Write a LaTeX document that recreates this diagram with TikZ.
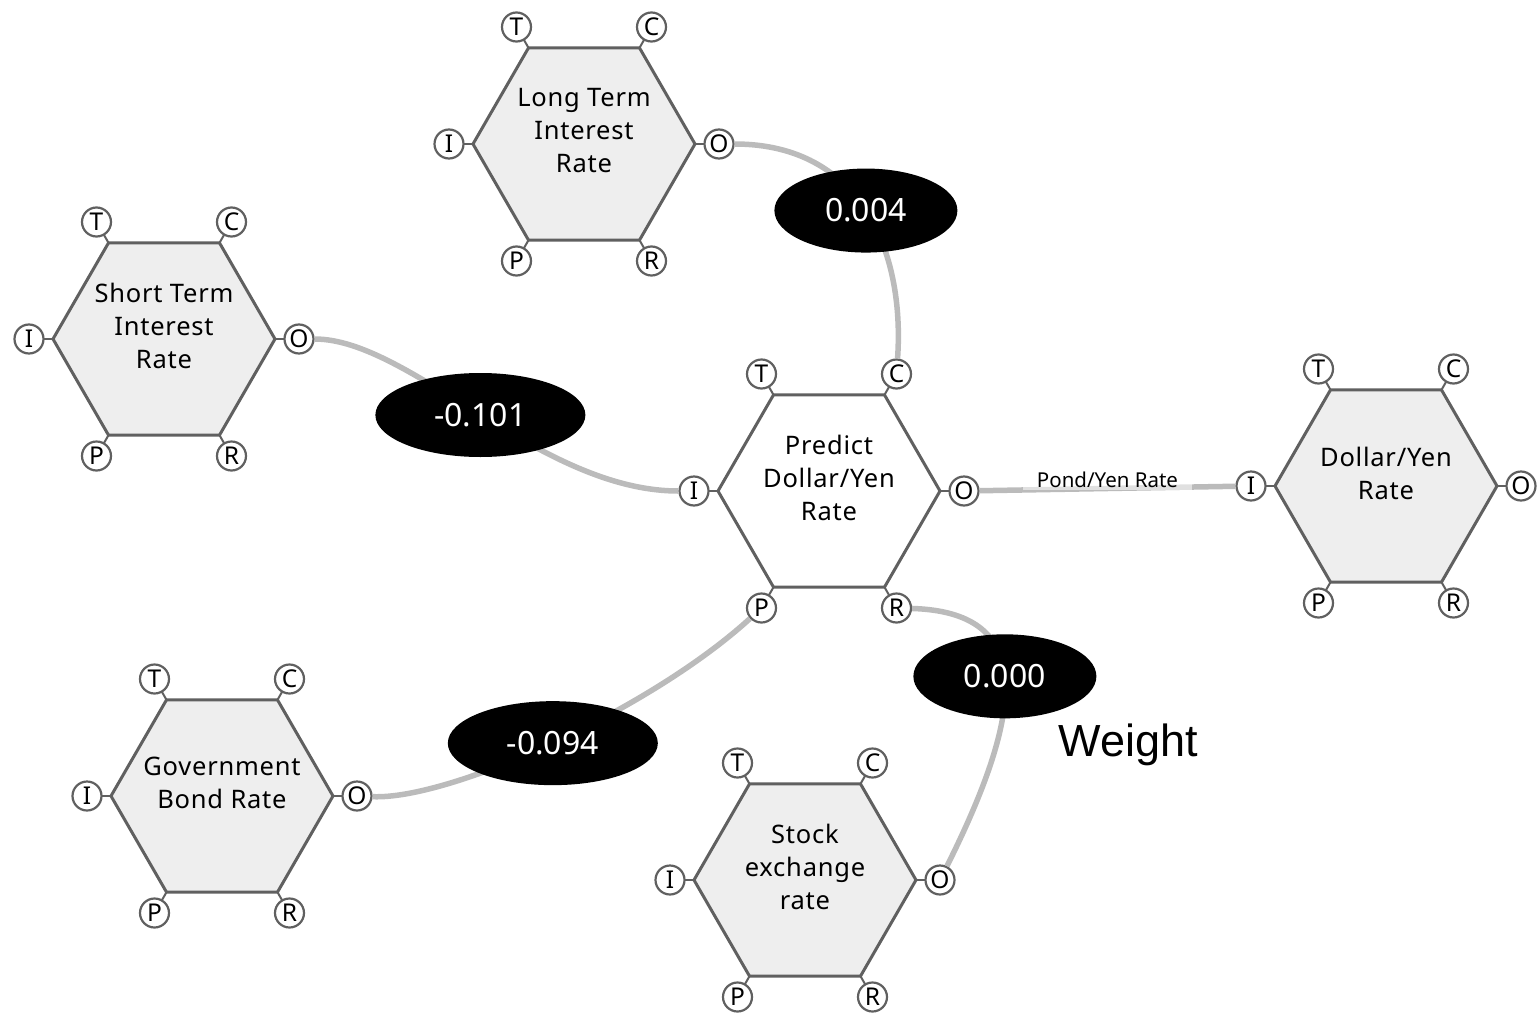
\documentclass[tikz,border=0pt]{standalone}
\usepackage{fontspec}
\setmainfont{Noto Sans}
\newfontfamily\weightfont{Liberation Sans}
\newfontfamily\hexfont[LetterSpace=3]{Noto Sans}
\usetikzlibrary{shapes.geometric}
\definecolor{hexborder}{HTML}{606060}
\definecolor{hexfill}{HTML}{EEEEEE}
\definecolor{wire}{HTML}{BBBBBB}
\tikzset{
 hexshape/.style={regular polygon, regular polygon sides=6, minimum size=222pt, inner sep=0pt, outer sep=0pt, draw=hexborder, line width=3pt},
 hextext/.style={align=center, font=\hexfont\fontsize{25.5}{33}\selectfont, inner sep=0pt},
 port/.style={circle, draw=hexborder, fill=white, line width=2.2pt, minimum size=29pt, inner sep=0pt, font=\fontsize{24.5}{24.5}\selectfont},
 stub/.style={draw=hexborder, line width=2pt},
 wirestyle/.style={draw=wire, line width=5.5pt},
 weightnode/.style={ellipse, fill=black, text=white, inner sep=0pt, minimum height=84pt, font=\fontsize{32}{32}\selectfont},
 pondlabel/.style={fill=white, fill opacity=0.55, text opacity=1, inner xsep=14pt, inner ysep=3pt, font=\fontsize{20.5}{20.5}\selectfont, yshift=9pt},
}
\newcommand\hexunit[5]{%
 \node[hexshape, fill=#4] (#1) at (#2,#3) {};
 \node[hextext] (#1-text) at (#2,#3-13) {#5};
 \foreach \p/\dx/\dy in {T/-67.5/-117,C/67.5/-117,I/-135/0,O/135/0,P/-67.5/117,R/67.5/117}{%
   \draw[stub] ({#2+0.822*(\dx)},{#3+0.822*(\dy)}) -- ({#2+\dx},{#3+\dy});
   \node[port] (#1-\p) at ({#2+\dx},{#3+\dy}) {\p};
 }%
}
\begin{document}
\begin{tikzpicture}[x=1pt,y=-1pt]
\useasboundingbox (0,0) rectangle (1537,1017);
\hexunit{lt}{584}{144}{hexfill}{Long Term\\Interest\\Rate}
\hexunit{st}{164}{339}{hexfill}{Short Term\\Interest\\Rate}
\hexunit{pd}{829}{491}{white}{Predict\\Dollar/Yen\\Rate}
\hexunit{dy}{1386}{486}{hexfill}{Dollar/Yen\\Rate}
\hexunit{gb}{222}{796}{hexfill}{Government\\Bond Rate}
\hexunit{se}{805}{880}{hexfill}{Stock\\exchange\\rate}

\draw[wirestyle] (lt-O) .. controls (860,144) and (905,250) .. node[weightnode, minimum width=183pt] (w1) {0.004} (pd-C);
\draw[wirestyle] (st-O) .. controls (410,339) and (540,491) .. node[weightnode, minimum width=210pt] (w2) {-0.101} (pd-I);
\draw[wirestyle] (gb-O) .. controls (450,800) and (650,710) .. node[weightnode, minimum width=210pt] (w3) {-0.094} (pd-P);
\draw[wirestyle] (pd-R) .. controls (1030,612) and (1030,700) .. node[weightnode, minimum width=183pt] (w4) {0.000} (se-O);
\draw[wirestyle] (pd-O) -- node[pondlabel] (pond) {Pond/Yen Rate} (dy-I);

\node[font=\weightfont\fontsize{45}{45}\selectfont] (weightlabel) at (1128,745) {Weight};
\end{tikzpicture}
\end{document}
